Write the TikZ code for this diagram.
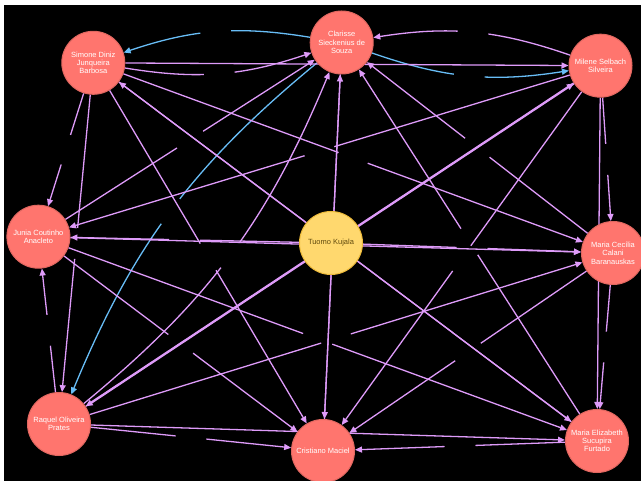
\documentclass[tikz,border=0pt]{standalone}
\usepackage{fontspec}
\setmainfont{Liberation Sans}
\usetikzlibrary{arrows.meta,calc}
\pgfdeclarelayer{bg}
\pgfdeclarelayer{edges}
\pgfsetlayers{bg,edges,main}
\definecolor{salmon}{HTML}{FF756E}
\definecolor{salmonb}{HTML}{E06760}
\definecolor{yel}{HTML}{FFD86E}
\definecolor{yelb}{HTML}{EDBA39}
\definecolor{yeltext}{HTML}{604A0E}
\definecolor{violetc}{HTML}{DE9BF9}
\definecolor{bluec}{HTML}{68BDF6}
\tikzset{
  vio/.style={draw=violetc, line width=1.3pt},
  blu/.style={draw=bluec, line width=1.3pt},
  arr/.style={-{Triangle[length=7pt,width=6pt]}},
  person/.style={circle, fill=salmon, draw=salmonb, line width=1pt,
    minimum size=63pt, inner sep=0pt, text=white, align=center,
    font=\fontsize{7.5}{8.3}\selectfont},
  centre/.style={person, fill=yel, draw=yelb, text=yeltext}
}
\newcommand{\gline}[3][vio]{%
  \draw[#1, shorten >=15.5pt] (#2) -- ($(#2)!0.5!(#3)$);
  \draw[#1, arr, shorten <=15.5pt] ($(#2)!0.5!(#3)$) -- (#3);}
\begin{document}
\begin{tikzpicture}[x=1pt,y=1pt]
\useasboundingbox (0,0) rectangle (641,-481);
\begin{pgfonlayer}{bg}
  \fill[white] (0,0) rectangle (641,-481);
  \fill[black] (4,-5) rectangle (641,-481);
\end{pgfonlayer}
% nodes
\node[person] (S) at (93.3,-62.8) {Simone Diniz\\Junqueira\\Barbosa};
\node[person] (C) at (341.7,-42.5) {Clarisse\\Sieckenius de\\Souza};
\node[person] (M) at (600.5,-65.7) {Milene Selbach\\Silveira};
\node[person] (J) at (38.4,-236.7) {Junia Coutinho\\Anacleto};
\node[centre] (T) at (331,-243) {Tuomo Kujala};
\node[person] (B) at (613,-253) {Maria Cecília\\Calani\\Baranauskas};
\node[person] (R) at (59,-424) {Raquel Oliveira\\Prates};
\node[person] (X) at (323,-451) {Cristiano Maciel};
\node[person] (F) at (597,-441) {Maria Elizabeth\\Sucupira\\Furtado};
\begin{pgfonlayer}{edges}
  % curved pairs
  \draw[blu, arr, dash pattern=on 79.3pt off 31pt on 2000pt] (C) to[bend right=14] (S);
  \draw[vio, arr, dash pattern=on 79.3pt off 31pt on 2000pt] (S) to[bend right=14] (C);
  \draw[vio, arr, dash pattern=on 84.7pt off 31pt on 2000pt] (M) to[bend right=14] (C);
  \draw[blu, arr, dash pattern=on 84.7pt off 31pt on 2000pt] (C) to[bend right=14] (M);
  \draw[blu, arr, dash pattern=on 193.6pt off 31pt on 2000pt] (C) to[bend right=14] (R);
  \draw[vio, arr, dash pattern=on 193.6pt off 31pt on 2000pt] (R) to[bend right=14] (C);
  % straight edges passing behind another node
  \draw[vio, arr] (S) -- (M);
  \draw[vio, arr] (M) -- (F);
  \draw[vio, arr] (R) -- (F);
  \draw[vio, arr] (S) -- (F);
  \draw[vio, arr] (F) -- (S);
  \draw[vio, arr] (C) -- (X);
  \draw[vio, arr] (X) -- (C);
  \draw[vio, arr, line width=2.3pt] (M) -- (R);
  \draw[vio, arr] (R) -- (M);
  \draw[vio, arr] (J) -- (B);
  % straight edges with a label gap
  \gline{S}{J}
  \gline{S}{R}
  \gline{S}{X}
  \gline{S}{B}
  \gline{J}{C}
  \gline{M}{J}
  \gline{F}{C}
  \gline{B}{C}
  \gline{M}{B}
  \gline{M}{X}
  \gline{R}{J}
  \gline{J}{X}
  \gline{J}{F}
  \gline{R}{B}
  \gline{R}{X}
  \gline{B}{X}
  \gline{B}{F}
  \gline{F}{X}
  \gline{T}{J}
  \gline{T}{B}
\end{pgfonlayer}
\end{tikzpicture}
\end{document}
